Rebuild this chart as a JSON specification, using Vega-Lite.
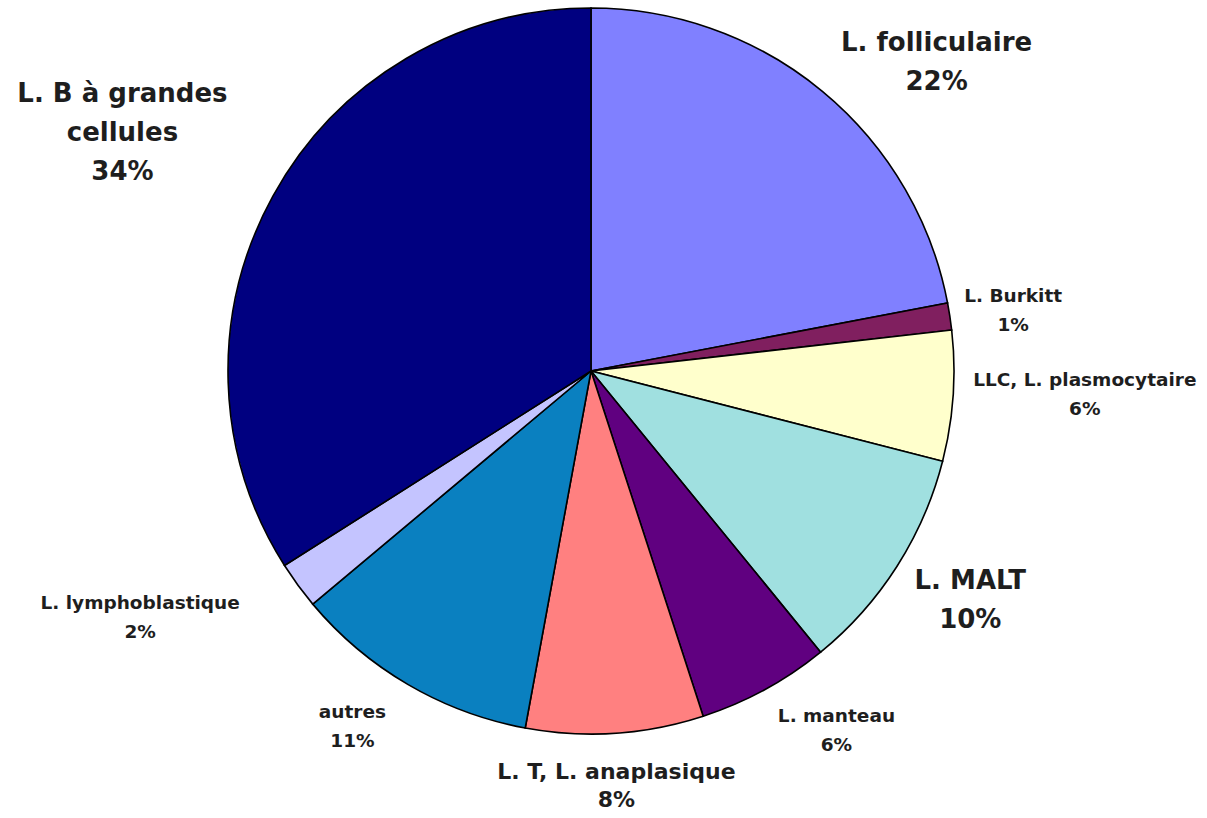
{
  "$schema": "https://vega.github.io/schema/vega-lite/v6.json",
  "width": 1182,
  "height": 742,
  "autosize": {"type": "none"},
  "padding": {"left": 0, "top": 0, "right": 25, "bottom": 76},
  "background": "white",
  "view": {"stroke": null},
  "data": {"values": [
    {"cat": "L. folliculaire", "value": 22, "label": "L. folliculaire\n22%"},
    {"cat": "L. Burkitt", "value": 1.2, "label": "L. Burkitt\n1%"},
    {"cat": "LLC, L. plasmocytaire", "value": 5.8, "label": "LLC, L. plasmocytaire\n6%"},
    {"cat": "L. MALT", "value": 10.1, "label": "L. MALT\n10%"},
    {"cat": "L. manteau", "value": 5.9, "label": "L. manteau\n6%"},
    {"cat": "L. T, L. anaplasique", "value": 7.9, "label": "L. T, L. anaplasique\n8%"},
    {"cat": "autres", "value": 11, "label": "autres\n11%"},
    {"cat": "L. lymphoblastique", "value": 2.1, "label": "L. lymphoblastique\n2%"},
    {"cat": "L. B à grandes cellules", "value": 34, "label": "L. B à grandes\ncellules\n34%"}
  ]},
  "transform": [{"window": [{"op": "row_number", "as": "rank"}]}],
  "encoding": {
    "theta": {"field": "value", "type": "quantitative", "stack": true},
    "order": {"field": "rank", "type": "quantitative"},
    "detail": {"field": "cat", "type": "nominal"}
  },
  "layer": [
    {
      "mark": {"type": "arc", "outerRadius": 363, "stroke": "#000000", "strokeWidth": 1.6},
      "encoding": {
        "color": {
          "field": "cat", "type": "nominal", "legend": null,
          "scale": {
            "domain": ["L. folliculaire", "L. Burkitt", "LLC, L. plasmocytaire", "L. MALT", "L. manteau", "L. T, L. anaplasique", "autres", "L. lymphoblastique", "L. B à grandes cellules"],
            "range": ["#8080ff", "#801f5f", "#ffffcc", "#a0e0e0", "#600080", "#ff8080", "#0a80c0", "#c4c4ff", "#000080"]
          }
        }
      }
    },
    {
      "mark": {"type": "text", "radius": 459, "dx": 53, "dy": 26, "fontSize": 26, "lineHeight": 39, "font": "DejaVu Sans", "fontWeight": "bold", "fill": "#1e1e1e", "align": "center", "baseline": "middle", "lineBreak": "\n"},
      "encoding": {"text": {"condition": {"test": "datum.cat === 'L. folliculaire'", "field": "label", "type": "nominal"}, "value": ""}}
    },
    {
      "mark": {"type": "text", "radius": 427, "dx": 0, "dy": -11, "fontSize": 18.5, "lineHeight": 29, "font": "DejaVu Sans", "fontWeight": "bold", "fill": "#1e1e1e", "align": "center", "baseline": "middle", "lineBreak": "\n"},
      "encoding": {"text": {"condition": {"test": "datum.cat === 'L. Burkitt'", "field": "label", "type": "nominal"}, "value": ""}}
    },
    {
      "mark": {"type": "text", "radius": 494, "dx": 1, "dy": -25, "fontSize": 18.5, "lineHeight": 29, "font": "DejaVu Sans", "fontWeight": "bold", "fill": "#1e1e1e", "align": "center", "baseline": "middle", "lineBreak": "\n"},
      "encoding": {"text": {"condition": {"test": "datum.cat === 'LLC, L. plasmocytaire'", "field": "label", "type": "nominal"}, "value": ""}}
    },
    {
      "mark": {"type": "text", "radius": 443, "dx": 6, "dy": -29, "fontSize": 26, "lineHeight": 39, "font": "DejaVu Sans", "fontWeight": "bold", "fill": "#1e1e1e", "align": "center", "baseline": "middle", "lineBreak": "\n"},
      "encoding": {"text": {"condition": {"test": "datum.cat === 'L. MALT'", "field": "label", "type": "nominal"}, "value": ""}}
    },
    {
      "mark": {"type": "text", "radius": 431, "dx": 39, "dy": -33, "fontSize": 18.5, "lineHeight": 29, "font": "DejaVu Sans", "fontWeight": "bold", "fill": "#1e1e1e", "align": "center", "baseline": "middle", "lineBreak": "\n"},
      "encoding": {"text": {"condition": {"test": "datum.cat === 'L. manteau'", "field": "label", "type": "nominal"}, "value": ""}}
    },
    {
      "mark": {"type": "text", "radius": 415, "dx": -2, "dy": -13, "fontSize": 22, "lineHeight": 28, "font": "DejaVu Sans", "fontWeight": "bold", "fill": "#1e1e1e", "align": "center", "baseline": "middle", "lineBreak": "\n"},
      "encoding": {"text": {"condition": {"test": "datum.cat === 'L. T, L. anaplasique'", "field": "label", "type": "nominal"}, "value": ""}}
    },
    {
      "mark": {"type": "text", "radius": 426, "dx": -24, "dy": -27, "fontSize": 18.5, "lineHeight": 29, "font": "DejaVu Sans", "fontWeight": "bold", "fill": "#1e1e1e", "align": "center", "baseline": "middle", "lineBreak": "\n"},
      "encoding": {"text": {"condition": {"test": "datum.cat === 'autres'", "field": "label", "type": "nominal"}, "value": ""}}
    },
    {
      "mark": {"type": "text", "radius": 509, "dx": -40, "dy": -68, "fontSize": 18.5, "lineHeight": 29, "font": "DejaVu Sans", "fontWeight": "bold", "fill": "#1e1e1e", "align": "center", "baseline": "middle", "lineBreak": "\n"},
      "encoding": {"text": {"condition": {"test": "datum.cat === 'L. lymphoblastique'", "field": "label", "type": "nominal"}, "value": ""}}
    },
    {
      "mark": {"type": "text", "radius": 529, "dx": -5, "dy": -22, "fontSize": 26, "lineHeight": 39, "font": "DejaVu Sans", "fontWeight": "bold", "fill": "#1e1e1e", "align": "center", "baseline": "middle", "lineBreak": "\n"},
      "encoding": {"text": {"condition": {"test": "datum.cat === 'L. B à grandes cellules'", "field": "label", "type": "nominal"}, "value": ""}}
    }
  ]
}
